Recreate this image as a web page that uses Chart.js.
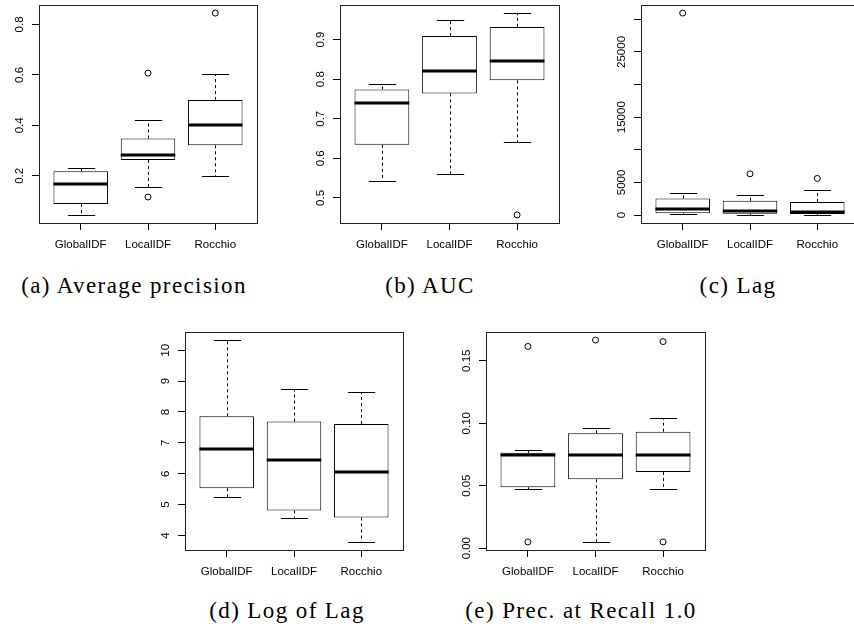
<!DOCTYPE html>
<html lang="en">
<head>
    <meta charset="UTF-8">
    <title>Boxplots</title>
    <script src="https://cdn.jsdelivr.net/npm/chart.js"></script>
    <style>
        html, body { margin: 0; padding: 0; background: #fff; overflow: hidden; }
        #page { position: relative; width: 854px; height: 633px; overflow: hidden; }
        canvas { position: absolute; }
        .cap {
            position: absolute;
            font-family: "Liberation Serif", serif;
            font-size: 23px;
            line-height: 23px;
            letter-spacing: 1.4px;
            white-space: nowrap;
            transform: translateX(-50%);
            color: #000;
        }
    </style>
</head>
<body>
<div id="page">
    <canvas id="chartA" width="290" height="260" style="left:0px;top:0px"></canvas>
    <canvas id="chartB" width="290" height="260" style="left:290px;top:0px"></canvas>
    <canvas id="chartC" width="280" height="260" style="left:590px;top:0px"></canvas>
    <canvas id="chartD" width="290" height="270" style="left:140px;top:310px"></canvas>
    <canvas id="chartE" width="290" height="270" style="left:440px;top:310px"></canvas>

    <div class="cap" style="left:134px;top:274px">(a) Average precision</div>
    <div class="cap" style="left:430px;top:274px">(b) AUC</div>
    <div class="cap" style="left:738px;top:274px">(c) Lag</div>
    <div class="cap" style="left:287px;top:599px">(d) Log of Lag</div>
    <div class="cap" style="left:581px;top:599px">(e) Prec. at Recall 1.0</div>
</div>
<script>
    const methods = ['GlobalIDF', 'LocalIDF', 'Rocchio'];

    // (a) Average precision
    const apLow  = [0.045, 0.156, 0.200];
    const apQ1   = [0.088, 0.263, 0.321];
    const apMed  = [0.168, 0.282, 0.401];
    const apQ3   = [0.218, 0.348, 0.500];
    const apHigh = [0.232, 0.421, 0.602];
    const apOut  = [[], [0.116, 0.607], [0.845]];
    const apTicks = [0.2, 0.4, 0.6, 0.8];
    const apTickLabels = ['0.2', '0.4', '0.6', '0.8'];

    // (b) AUC
    const aucLow  = [0.542, 0.560, 0.642];
    const aucQ1   = [0.634, 0.764, 0.797];
    const aucMed  = [0.741, 0.820, 0.846];
    const aucQ3   = [0.774, 0.909, 0.932];
    const aucHigh = [0.788, 0.949, 0.967];
    const aucOut  = [[], [], [0.457]];
    const aucTicks = [0.5, 0.6, 0.7, 0.8, 0.9];
    const aucTickLabels = ['0.5', '0.6', '0.7', '0.8', '0.9'];

    // (c) Lag
    const lagLow  = [100, 30, 20];
    const lagQ1   = [260, 200, 150];
    const lagMed  = [870, 610, 410];
    const lagQ3   = [2550, 2190, 1990];
    const lagHigh = [3320, 3100, 3870];
    const lagOut  = [[30960], [6320], [5610]];
    const lagTicks = [0, 5000, 10000, 15000, 20000, 25000, 30000];
    const lagTickLabels = ['0', '5000', '', '15000', '', '25000', ''];

    // (d) Log of Lag
    const logLow  = [5.23, 4.55, 3.79];
    const logQ1   = [5.53, 4.81, 4.58];
    const logMed  = [6.80, 6.43, 6.04];
    const logQ3   = [7.86, 7.69, 7.61];
    const logHigh = [10.33, 8.75, 8.64];
    const logOut  = [[], [], []];
    const logTicks = [4, 5, 6, 7, 8, 9, 10];
    const logTickLabels = ['4', '5', '6', '7', '8', '9', '10'];

    // (e) Prec. at Recall 1.0
    const precLow  = [0.0471, 0.0050, 0.0476];
    const precQ1   = [0.0487, 0.0551, 0.0610];
    const precMed  = [0.0748, 0.0745, 0.0745];
    const precQ3   = [0.0764, 0.0920, 0.0932];
    const precHigh = [0.0782, 0.0958, 0.1043];
    const precOut  = [[0.1614, 0.0050], [0.1665], [0.1653, 0.0050]];
    const precTicks = [0.00, 0.05, 0.10, 0.15];
    const precTickLabels = ['0.00', '0.05', '0.10', '0.15'];

    const axisFont = { family: 'Liberation Sans', size: 11.5 };

    // R-like box plot drawing: frame, whiskers, staples, median, rotated y labels
    const boxPlugin = {
        id: 'rbox',
        beforeDatasetsDraw(chart) {
            const ctx = chart.ctx;
            const bp = chart.options.plugins.rbox;
            const y = chart.scales.y;
            const bars = chart.getDatasetMeta(0).data;
            ctx.save();
            ctx.strokeStyle = '#000';
            ctx.lineWidth = 1;
            bars.forEach((bar, i) => {
                const px = Math.round(bar.x) + 0.5;
                const half = bar.width / 4;
                [[bp.q3[i], bp.high[i]], [bp.q1[i], bp.low[i]]].forEach(([from, to]) => {
                    const y0 = y.getPixelForValue(from);
                    const y1 = Math.round(y.getPixelForValue(to)) + 0.5;
                    ctx.setLineDash([3, 3]);
                    ctx.beginPath();
                    ctx.moveTo(px, y0);
                    ctx.lineTo(px, y1);
                    ctx.stroke();
                    ctx.setLineDash([]);
                    ctx.beginPath();
                    ctx.moveTo(px - half, y1);
                    ctx.lineTo(px + half, y1);
                    ctx.stroke();
                });
            });
            ctx.restore();
        },
        afterDatasetsDraw(chart) {
            const ctx = chart.ctx;
            const bp = chart.options.plugins.rbox;
            const y = chart.scales.y;
            const a = chart.chartArea;
            const bars = chart.getDatasetMeta(0).data;
            ctx.save();
            ctx.strokeStyle = '#000';
            ctx.lineWidth = 3;
            bars.forEach((bar, i) => {
                const py = Math.round(y.getPixelForValue(bp.med[i]));
                ctx.beginPath();
                ctx.moveTo(bar.x - bar.width / 2, py);
                ctx.lineTo(bar.x + bar.width / 2, py);
                ctx.stroke();
            });
            // frame
            ctx.lineWidth = 1;
            ctx.strokeStyle = '#222';
            ctx.strokeRect(Math.round(a.left) + 0.5, Math.round(a.top) + 0.5,
                Math.round(a.right - a.left), Math.round(a.bottom - a.top));
            // y tick labels, rotated like R's default las=0
            ctx.fillStyle = '#000';
            ctx.font = axisFont.size + 'px ' + axisFont.family;
            ctx.textAlign = 'center';
            ctx.textBaseline = 'alphabetic';
            y.ticks.forEach(t => {
                if (!t.label) return;
                ctx.save();
                ctx.translate(a.left - 16, y.getPixelForValue(t.value));
                ctx.rotate(-Math.PI / 2);
                ctx.fillText(t.label, 0, 0);
                ctx.restore();
            });
            ctx.restore();
        }
    };

    function makeBox(id, area, low, q1, med, q3, high, outs, ticks, tickLabels) {
        const canvas = document.getElementById(id);
        const W = canvas.width, H = canvas.height;

        // R extends the data range by 4% on each side
        const all = low.concat(high, ...outs);
        const lo = Math.min(...all), hi = Math.max(...all);
        const pad = (hi - lo) * 0.04;

        const boxes = methods.map((m, i) => ({ x: i + 1, y: [q1[i], q3[i]] }));
        const points = [];
        outs.forEach((list, i) => list.forEach(v => points.push({ x: i + 1, y: v })));

        return new Chart(canvas, {
            type: 'bar',
            data: {
                datasets: [{
                    data: boxes,
                    backgroundColor: '#fff',
                    borderColor: '#000',
                    borderWidth: 1,
                    borderSkipped: false,
                    barPercentage: 0.81,
                    categoryPercentage: 1
                }, {
                    type: 'scatter',
                    data: points,
                    pointStyle: 'circle',
                    pointRadius: 3,
                    borderWidth: 1,
                    borderColor: '#000',
                    backgroundColor: 'rgba(0,0,0,0)'
                }]
            },
            options: {
                responsive: false,
                animation: false,
                layout: { padding: { left: 0, top: area.top, right: W - area.right, bottom: 0 } },
                plugins: {
                    legend: { display: false },
                    tooltip: { enabled: false },
                    rbox: { low, q1, med, q3, high }
                },
                scales: {
                    x: {
                        type: 'linear',
                        min: 0.38,
                        max: 3.62,
                        offset: false,
                        border: { display: false },
                        grid: { offset: false, drawOnChartArea: false, drawTicks: true, tickLength: 7, color: '#000' },
                        afterBuildTicks: s => { s.ticks = methods.map((m, i) => ({ value: i + 1 })); },
                        afterFit: s => { s.height = H - area.bottom; },
                        ticks: {
                            color: '#000',
                            font: axisFont,
                            padding: 8,
                            maxRotation: 0,
                            autoSkip: false,
                            callback: v => methods[v - 1]
                        }
                    },
                    y: {
                        min: lo - pad,
                        max: hi + pad,
                        border: { display: false },
                        grid: { drawOnChartArea: false, drawTicks: true, tickLength: 7, color: '#000' },
                        afterBuildTicks: s => { s.ticks = ticks.map(v => ({ value: v })); },
                        afterFit: s => { s.width = area.left; },
                        ticks: {
                            display: false,
                            callback: (v, i) => tickLabels[i]
                        }
                    }
                }
            },
            plugins: [boxPlugin]
        });
    }

    makeBox('chartA', { left: 39, top: 5, right: 257, bottom: 223 },
        apLow, apQ1, apMed, apQ3, apHigh, apOut, apTicks, apTickLabels);
    makeBox('chartB', { left: 50, top: 5, right: 269, bottom: 223 },
        aucLow, aucQ1, aucMed, aucQ3, aucHigh, aucOut, aucTicks, aucTickLabels);
    makeBox('chartC', { left: 51, top: 5, right: 269, bottom: 223 },
        lagLow, lagQ1, lagMed, lagQ3, lagHigh, lagOut, lagTicks, lagTickLabels);
    makeBox('chartD', { left: 45, top: 22, right: 263, bottom: 240 },
        logLow, logQ1, logMed, logQ3, logHigh, logOut, logTicks, logTickLabels);
    makeBox('chartE', { left: 46, top: 22, right: 265, bottom: 240 },
        precLow, precQ1, precMed, precQ3, precHigh, precOut, precTicks, precTickLabels);
</script>
</body>
</html>
